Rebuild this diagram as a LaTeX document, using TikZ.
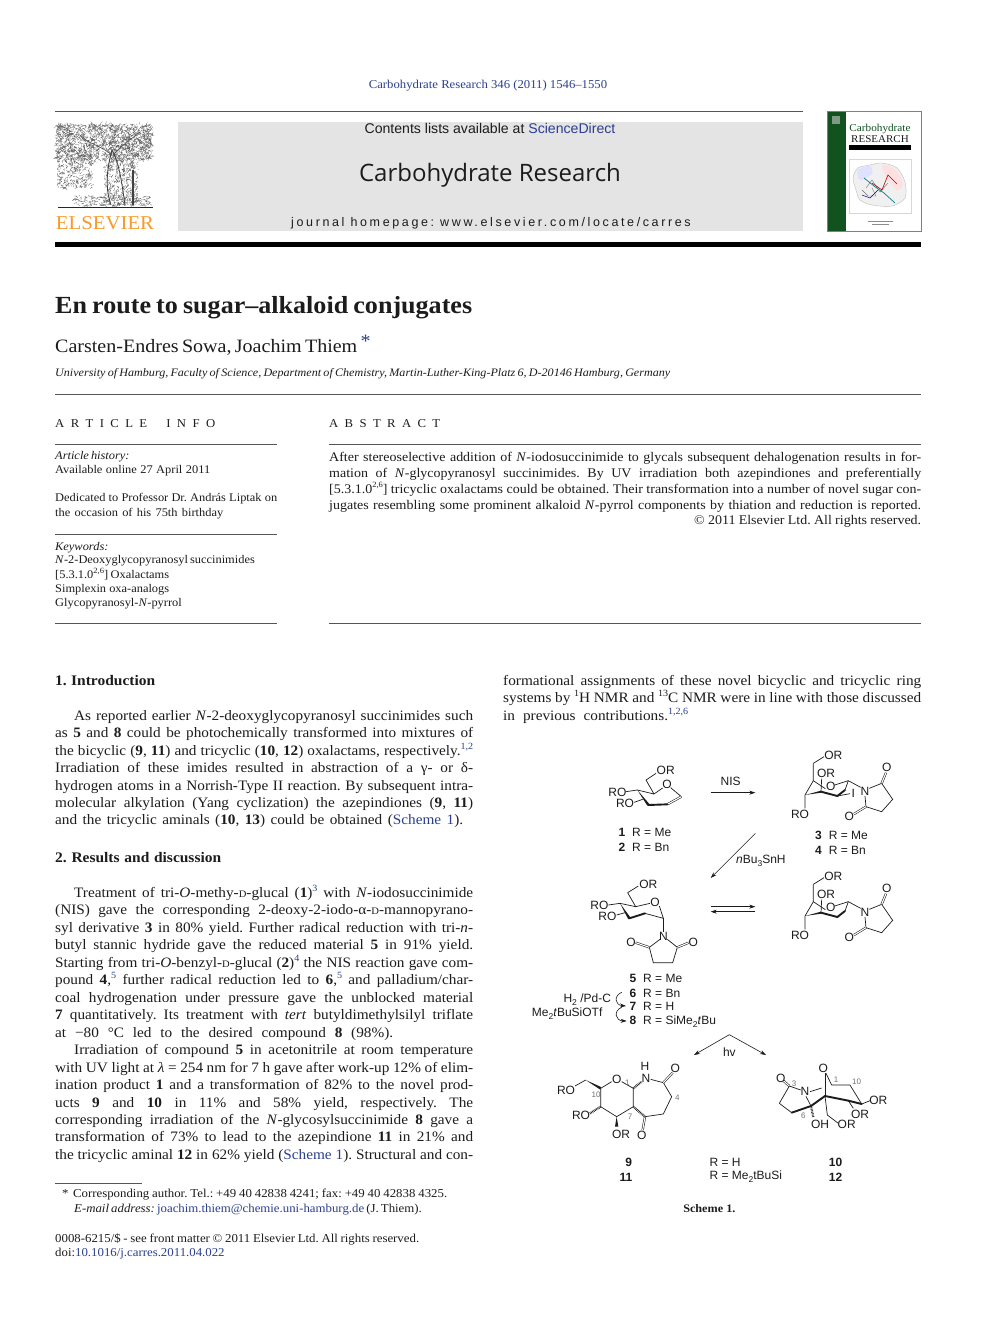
\documentclass[tikz,border=0pt]{standalone}
\usepackage{fontspec}
\usetikzlibrary{arrows.meta}
\setmainfont{Liberation Serif}[FakeStretch=1.06]
\newfontfamily\hvf{Liberation Sans}
\newfontfamily\hvs{Liberation Sans}[LetterSpace=21]
\newfontfamily\opf{Open Sans}
\definecolor{linkblue}{HTML}{2B3F8F}
\definecolor{boxgray}{HTML}{E4E4E4}
\definecolor{rulegray}{HTML}{555555}
\definecolor{elsorange}{HTML}{F79A2B}
\definecolor{covergreen}{HTML}{12521F}
\definecolor{coverlogo}{HTML}{7F9A85}
\definecolor{ink}{HTML}{1C1C1C}
\newcount\tc
\frenchspacing
\newcommand\lk[1]{\textcolor{linkblue}{#1}}
\newcommand\sups[1]{\raisebox{.42em}{\fontsize{9.5}{9.5}\selectfont #1}}
\newcommand\lsups[1]{\raisebox{.42em}{\lk{\fontsize{9.5}{9.5}\selectfont #1}}}
\newcommand\smd{{\fontsize{10}{10}\selectfont D}}
\newcommand\bodyf{\fontsize{14.4}{17}\selectfont\frenchspacing}
\newcommand\smallf{\fontsize{12.1}{14}\selectfont\frenchspacing}
\newcommand\infof{\fontsize{11.7}{14}\selectfont\frenchspacing}
\newcommand\absf{\fontsize{13.2}{15}\selectfont\frenchspacing}
\newcommand\tl[5]{\global\advance\tc by 1
  \node[inner sep=0pt,anchor=base west,text=ink] (t\the\tc) at (#2,#3+4.5) {#1\makebox[#4pt][s]{#5}};}
\newcommand\bl[2]{\tl{\bodyf}{55}{#1+1}{418}{#2}}
\newcommand\bi[2]{\tl{\bodyf}{74}{#1+1}{399}{#2}}
\newcommand\br[2]{\tl{\bodyf}{503}{#1+1}{418}{#2}}
\newcommand\ab[2]{\tl{\absf}{329}{#1+.5}{592}{#2}}
\newcommand\sm[3]{\tl{\infof}{55}{#1}{#2}{#3}}
\newcommand\chem[3]{\global\advance\tc by 1
  \node[inner sep=0pt,text=ink,font=\hvf\fontsize{12}{12}\selectfont] (c\the\tc) at (#1,#2) {#3};}
\newcommand\chemw[3]{\global\advance\tc by 1
  \node[inner sep=0pt,anchor=west,text=ink,font=\hvf\fontsize{12}{12}\selectfont] (c\the\tc) at (#1,#2) {#3};}
\newcommand\num[3]{\global\advance\tc by 1
  \node[inner sep=0pt,text=black!55,font=\hvf\fontsize{8}{8}\selectfont] (c\the\tc) at (#1,#2) {#3};}
\newcommand\ssub[1]{\raisebox{-.25em}{\fontsize{8.5}{8.5}\selectfont #1}}
\tikzset{
  bond/.style={draw=ink,line width=.7pt},
  thickb/.style={draw=ink,line width=1.9pt,line cap=round},
  dbl/.style={draw=ink,line width=.55pt,double=white,double distance=1.1pt},
  hashb/.style={draw=ink,line width=2.2pt,dash pattern=on .7pt off .8pt},
  rxn/.style={draw=ink,line width=.6pt,-{Stealth[length=6pt,width=4pt]}},
  rulel/.style={draw=rulegray,line width=.8pt},
}
% mannosyl succinimide drawn in zoom coordinates
\newcommand\boat[1]{
  \draw[bond] (880,70)--(912,50);
  \draw[bond] (880,70)--(880,122)--(855,165)--(855,205);
  \draw[bond] (880,122)--(916,146);
  \draw[bond] (905,116)--(903,155);
  \draw[bond] (944,135)--(985,122)--(1022,142);
  \draw[bond] (985,122)--(975,150);
  \fill[ink] (855,165)--(903,152)--(903,158)--cycle;
  \draw[thickb] (903,155)--(952,168);
  \draw[thickb] (952,168)--(975,150);
  #1
  \draw[bond] (1048,145)--(1085,130)--(1118,178)--(1085,215)--(1038,200)--(1035,168);
  \draw[dbl] (1085,130)--(1098,98);
  \draw[dbl] (1038,200)--(1002,222);
  \chem{940}{45}{OR}\chem{918}{101}{OR}\chem{932}{139}{O}\chem{840}{223}{RO}
  \chem{1035}{153}{N}\chem{1100}{83}{O}\chem{988}{228}{O}
}
\begin{document}
\begin{tikzpicture}[x=1pt,y=-1pt]
\useasboundingbox (0,0) rectangle (992,1323);
\fill[white] (0,0) rectangle (992,1323);
% ---------- header
\node[inner sep=0pt,font=\fontsize{12}{14}\selectfont,text=linkblue] (head) at (488,86) {Carbohydrate Research 346 (2011) 1546–1550};
\draw[rulel] (55,111)--(803,111);
\fill[boxgray] (178,122) rectangle (803,231);
\node[inner sep=0pt,font=\hvf\fontsize{14.1}{15}\selectfont,text=ink] (contents) at (490,128) {Contents lists available at \lk{ScienceDirect}};
\node[inner sep=0pt,font=\opf\fontsize{24}{28}\selectfont,text=ink] (jname) at (490,175) {Carbohydrate Research};
\node[inner sep=0pt,font=\hvs\fontsize{12.5}{14}\selectfont,text=ink] (homep) at (491,223) {journal homepage: www.elsevier.com/locate/carres};
\fill[black] (55,242) rectangle (921,247);
% ---------- Elsevier tree
\pgfmathsetseed{4711}
\draw[black!60,line width=.25pt] foreach \i in {1,...,1700} {({56+96*rnd},{124+36*rnd})--++({3*rand},{3*rand})};
\draw[black!60,line width=.25pt] foreach \i in {1,...,300} {({57+35*rnd},{158+30*rnd})--++({3*rand},{3*rand})};
\draw[black!60,line width=.25pt] foreach \i in {1,...,500} {({104+34*rnd},{158+48*rnd})--++({2*rand},{3*rand})};
\draw[black!60,line width=.25pt] foreach \i in {1,...,260} {({74+78*rnd},{196+10*rnd})--++({3*rand},{1.5*rand})};
\draw[black!75,line width=.9pt] (111,205)..controls (104,185) and (108,165)..(112,150);
\draw[black!75,line width=.8pt] (125,205)..controls (122,185) and (120,165)..(112,150);
\draw[black!70,line width=.6pt] (112,155)..controls (100,145) and (90,145)..(80,135);
\draw[black!70,line width=.6pt] (113,155)..controls (122,145) and (130,140)..(140,132);
\draw[black!75,line width=1.3pt] (133,205)--(133,170);
\draw[black!85,line width=1.2pt] (58,207.5)--(153,207.5);
\node[inner sep=0pt,font=\fontsize{19.6}{22}\selectfont,text=elsorange] (els) at (105,223.5) {ELSEVIER};
% ---------- cover
\fill[white] (827,111) rectangle (921,231);
\fill[covergreen] (827,111) rectangle (846,231);
\fill[coverlogo] (832,116) rectangle (840,124);
\draw[black!50,line width=.6pt] (827,111) rectangle (921,231);
\node[inner sep=0pt,font=\fontsize{10.6}{11}\selectfont,text=covergreen] (cov1) at (880,129) {Carbohydrate};
\node[inner sep=0pt,font=\fontsize{10.4}{11}\selectfont,text=ink] (cov2) at (880,139) {RESEARCH};
\fill[black] (849,145) rectangle (911,150);
\draw[covergreen!20,line width=.5pt] (849,159) rectangle (911,213);
\filldraw[fill=black!6,draw=black!25,line width=.4pt] plot[smooth cycle] coordinates {(853,178)(858,168)(870,165)(882,163)(897,168)(905,182)(905,198)(892,206)(872,205)(860,200)(856,190)};
\fill[red!12] plot[smooth cycle] coordinates {(882,165)(896,170)(903,184)(897,190)(888,180)};
\fill[blue!12] plot[smooth cycle] coordinates {(858,170)(870,166)(872,174)(860,180)};
\draw[black!55,line width=.4pt] (866,188)--(872,180)--(880,192)--(888,183);
\draw[black!55,line width=.4pt] (862,190)--(868,196)--(876,196)--(872,188);
\draw[teal,line width=.7pt] (864,178)--(874,186)--(884,193)--(895,203);
\draw[red!70!black,line width=.6pt] (872,183)--(882,190)--(888,175)--(897,184);
\draw[blue!60!black,line width=.5pt] (862,195)--(870,198)--(878,190);
\draw[black!45,line width=.5pt] (868,221)--(893,221);
\draw[black!45,line width=.5pt] (872,224.5)--(889,224.5);
% ---------- title block
\tl{\fontsize{24.6}{28}\selectfont\bfseries\frenchspacing}{55}{308.5}{417}{En route to sugar–alkaloid conjugates}
\tl{\fontsize{18.9}{22}\selectfont\frenchspacing}{55}{347.5}{315}{Carsten-Endres Sowa, Joachim Thiem \lk{\raisebox{.22em}{*}}}
\tl{\fontsize{11.4}{14}\selectfont\itshape\frenchspacing}{55}{372}{615}{University of Hamburg, Faculty of Science, Department of Chemistry, Martin-Luther-King-Platz 6, D-20146 Hamburg, Germany}
\draw[rulel] (55,394)--(921,394);
\tl{\fontsize{12}{14}\selectfont}{55}{422.5}{160}{A R T I C L E \ \ I N F O}
\tl{\fontsize{12}{14}\selectfont}{329}{422.5}{111}{A B S T R A C T}
\draw[rulel] (55,444)--(277,444);
\draw[rulel] (329,444)--(921,444);
\sm{455}{61}{\textit{Article history:}}
\sm{469}{155}{Available online 27 April 2011}
\sm{497}{222}{Dedicated to Professor Dr. András Liptak on}
\sm{512}{168}{the occasion of his 75th birthday}
\draw[rulel] (55,534)--(277,534);
\sm{546}{50}{\textit{Keywords:}}
\sm{559}{199}{\textit{N}-2-Deoxyglycopyranosyl succinimides}
\sm{574}{114}{[5.3.1.0\sups{\fontsize{8}{8}\selectfont 2,6}] Oxalactams}
\sm{588}{114}{Simplexin oxa-analogs}
\sm{602}{125}{Glycopyranosyl-\textit{N}-pyrrol}
\draw[rulel] (55,623)--(277,623);
\draw[rulel] (329,623)--(921,623);
% ---------- abstract
\ab{456}{After stereoselective addition of \textit{N}-iodosuccinimide to glycals subsequent dehalogenation results in for-}
\ab{472}{mation of \textit{N}-glycopyranosyl succinimides. By UV irradiation both azepindiones and preferentially}
\ab{488}{[5.3.1.0\sups{\fontsize{8}{8}\selectfont 2,6}] tricyclic oxalactams could be obtained. Their transformation into a number of novel sugar con-}
\ab{504}{jugates resembling some prominent alkaloid \textit{N}-pyrrol components by thiation and reduction is reported.}
\tl{\absf}{694}{519.5}{227}{© 2011 Elsevier Ltd. All rights reserved.}
% ---------- left column
\tl{\fontsize{14.6}{17}\selectfont\bfseries\frenchspacing}{55}{681}{100}{1. Introduction}
\bi{715}{As reported earlier \textit{N}-2-deoxyglycopyranosyl succinimides such}
\bl{732}{as \textbf{5} and \textbf{8} could be photochemically transformed into mixtures of}
\bl{750}{the bicyclic (\textbf{9}, \textbf{11}) and tricyclic (\textbf{10}, \textbf{12}) oxalactams, respectively.\lsups{1,2}}
\bl{767}{Irradiation of these imides resulted in abstraction of a γ- or δ-}
\bl{785}{hydrogen atoms in a Norrish-Type II reaction. By subsequent intra-}
\bl{802}{molecular alkylation (Yang cyclization) the azepindiones (\textbf{9}, \textbf{11})}
\tl{\bodyf}{55}{820}{408}{and the tricyclic aminals (\textbf{10}, \textbf{13}) could be obtained (\lk{Scheme 1}).}
\tl{\fontsize{14.6}{17}\selectfont\bfseries\frenchspacing}{55}{858}{166}{2. Results and discussion}
\bi{892}{Treatment of tri-\textit{O}-methy-\smd-glucal (\textbf{1})\lsups{3} with \textit{N}-iodosuccinimide}
\bl{909}{(NIS) gave the corresponding 2-deoxy-2-iodo-α-\smd-mannopyrano-}
\bl{927}{syl derivative \textbf{3} in 80\% yield. Further radical reduction with tri-\textit{n}-}
\bl{944}{butyl stannic hydride gave the reduced material \textbf{5} in 91\% yield.}
\bl{962}{Starting from tri-\textit{O}-benzyl-\smd-glucal (\textbf{2})\lsups{4} the NIS reaction gave com-}
\bl{979}{pound \textbf{4},\lsups{5} further radical reduction led to \textbf{6},\lsups{5} and palladium/char-}
\bl{997}{coal hydrogenation under pressure gave the unblocked material}
\bl{1014}{\textbf{7} quantitatively. Its treatment with \textit{tert} butyldimethylsilyl triflate}
\tl{\bodyf}{55}{1033}{338}{at −80 °C led to the desired compound \textbf{8} (98\%).}
\bi{1049}{Irradiation of compound \textbf{5} in acetonitrile at room temperature}
\bl{1067}{with UV light at \textit{λ} = 254 nm for 7 h gave after work-up 12\% of elim-}
\bl{1084}{ination product \textbf{1} and a transformation of 82\% to the novel prod-}
\bl{1102}{ucts \textbf{9} and \textbf{10} in 11\% and 58\% yield, respectively. The}
\bl{1119}{corresponding irradiation of the \textit{N}-glycosylsuccinimide \textbf{8} gave a}
\bl{1136}{transformation of 73\% to lead to the azepindione \textbf{11} in 21\% and}
\bl{1154}{the tricyclic aminal \textbf{12} in 62\% yield (\lk{Scheme 1}). Structural and con-}
\draw[rulegray,line width=.5pt] (55,1183)--(142,1183);
\tl{\smallf}{62}{1193}{385}{*\hspace{4.5pt}Corresponding author. Tel.: +49 40 42838 4241; fax: +49 40 42838 4325.}
\tl{\smallf}{74}{1208}{336}{\textit{E-mail address:} \lk{joachim.thiem@chemie.uni-hamburg.de} (J. Thiem).}
\tl{\smallf}{55}{1238}{364}{0008-6215/\$ - see front matter © 2011 Elsevier Ltd. All rights reserved.}
\tl{\smallf}{55}{1252}{164}{doi:\lk{10.1016/j.carres.2011.04.022}}
% ---------- right column
\br{680}{formational assignments of these novel bicyclic and tricyclic ring}
\br{697}{systems by \sups{1}H NMR and \sups{13}C NMR were in line with those discussed}
\tl{\bodyf}{503}{716}{185}{in previous contributions.\lsups{1,2,6}}
% ---------- scheme, upper part (zoom coordinates)
\begin{scope}[shift={(520,740)},x=.33333pt,y=-.33333pt]
  % 1,2
  \draw[bond] (378,120)--(408,100);
  \draw[bond] (378,120)--(402,162)--(428,144);
  \draw[bond] (452,143)--(484,170);
  \draw[dbl] (484,170)--(442,193);
  \draw[bond] (402,162)--(352,150)--(318,155);
  \draw[bond] (342,187)--(368,178);
  \draw[thickb] (442,193)--(385,195);
  \fill[ink] (352,150)--(388,192)--(382,197)--cycle;
  \chem{437}{90}{OR}\chem{292}{158}{RO}\chem{315}{190}{RO}\chem{441}{132}{O}
  \chemw{295}{278}{\textbf{1}\hspace{7pt}R = Me}
  \chemw{295}{322}{\textbf{2}\hspace{7pt}R = Bn}
  % 3,4
  \boat{\draw[bond] (952,168)--(990,161);\chem{1000}{160}{I}}
  \chemw{885}{285}{\textbf{3}\hspace{7pt}R = Me}
  \chemw{885}{330}{\textbf{4}\hspace{7pt}R = Bn}
  % arrows
  \coordinate (nisA) at (572,158); \coordinate (nisB) at (706,158);
  \draw[rxn] (nisA)--(nisB);
  \chem{632}{125}{NIS}
  \coordinate (snA) at (706,280); \coordinate (snB) at (572,414);
  \draw[rxn] (snA)--(snB);
  \chemw{648}{362}{\textit{n}Bu\ssub{3}SnH}
  \coordinate (eqA) at (572,500); \coordinate (eqB) at (706,500);
  \coordinate (eqC) at (706,515); \coordinate (eqD) at (572,515);
  \draw[rxn] (eqA)--(eqB);
  \draw[rxn] (eqC)--(eqD);
  % lower boat
  \begin{scope}[yshift=-121pt]
    \boat{}
  \end{scope}
  % 5
  \draw[bond] (323,458)--(355,438);
  \draw[bond] (323,458)--(347,500)--(390,490);
  \draw[bond] (418,498)--(430,535)--(375,520);
  \draw[bond] (347,500)--(300,490)--(265,495);
  \draw[bond] (290,525)--(315,518);
  \fill[ink] (300,490)--(331,532)--(325,538)--cycle;
  \draw[thickb] (328,535)--(375,520);
  \draw[bond] (430,535)--(430,576);
  \draw[bond] (420,598)--(388,622)--(400,668)--(458,668)--(472,622)--(442,598);
  \draw[dbl] (388,622)--(347,608);
  \draw[dbl] (472,622)--(506,608);
  \chem{385}{432}{OR}\chem{238}{497}{RO}\chem{262}{528}{RO}\chem{405}{488}{O}
  \chem{430}{590}{N}\chem{333}{606}{O}\chem{520}{606}{O}
\end{scope}
% ---------- scheme, lower part (zoom coordinates)
\begin{scope}[shift={(520,960)},x=.33333pt,y=-.33333pt]
  \chemw{328}{55}{\textbf{5}\hspace{7pt}R = Me}
  \chemw{328}{100}{\textbf{6}\hspace{7pt}R = Bn}
  \chemw{328}{140}{\textbf{7}\hspace{7pt}R = H}
  \chemw{328}{185}{\textbf{8}\hspace{7pt}R = SiMe\ssub{2}\textit{t}Bu}
  \chemw{130}{120}{H\ssub{2} /Pd-C}
  \chemw{35}{160}{Me\ssub{2}\textit{t}BuSiOTf}
  \coordinate (c1a) at (305,97); \coordinate (c1b) at (318,138);
  \coordinate (c2a) at (305,142); \coordinate (c2b) at (320,183);
  \draw[rxn] (c1a)..controls (280,108) and (285,135)..(c1b);
  \draw[rxn] (c2a)..controls (280,152) and (285,182)..(c2b);
  \coordinate (hv) at (628,224); \coordinate (hvL) at (522,285); \coordinate (hvR) at (738,285);
  \draw[rxn] (hv)--(hvL);
  \draw[rxn] (hv)--(hvR);
  \chem{628}{277}{hv}
  % 9
  \draw[bond] (165,378)--(197,360);
  \fill[ink] (197,360)--(243,381)--(241,389)--cycle;
  \draw[bond] (242,385)--(275,365);
  \draw[bond] (305,365)--(340,385)--(340,440)--(290,470)--(242,440)--(242,385);
  \draw[hashb] (340,385)--(365,365);
  \draw[bond] (392,358)--(430,368)--(455,410)--(430,462)--(375,470);
  \draw[dbl] (430,368)--(458,338);
  \draw[dbl] (375,470)--(368,510);
  \draw[hashb] (340,440)--(375,470);
  \draw[hashb] (242,440)--(210,460);
  \fill[ink] (290,470)--(285,500)--(295,500)--cycle;
  \chem{138}{390}{RO}\chem{290}{358}{O}\chem{378}{355}{N}\chem{375}{320}{H}
  \chem{466}{325}{O}\chem{183}{465}{RO}\chem{303}{523}{OR}\chem{365}{525}{O}
  \num{228}{403}{10}\num{322}{368}{1}\num{472}{413}{4}\num{330}{470}{7}
  % 10
  \draw[dbl] (808,378)--(790,362);
  \draw[bond] (808,378)--(842,390);
  \draw[bond] (808,378)--(778,430);
  \draw[bond] (778,430)--(815,458);
  \draw[thickb] (815,458)--(873,438)--(915,408)--(985,422);
  \draw[thickb] (985,422)--(1025,432);
  \draw[bond] (858,409)--(873,438);
  \draw[bond] (870,395)--(905,384);
  \draw[bond] (1025,432)--(990,375)--(935,375)--(918,340);
  \draw[bond] (915,340)--(915,408);
  \draw[bond] (1025,432)--(1050,422);
  \draw[bond] (985,422)--(1000,445);
  \draw[bond] (915,408)--(922,465)--(955,490);
  \draw[hashb] (873,438)--(880,472);
  \chem{910}{325}{O}\chem{855}{395}{N}\chem{782}{355}{O}
  \chem{1075}{420}{OR}\chem{1020}{462}{OR}\chem{980}{492}{OR}\chem{900}{492}{OH}
  \num{948}{360}{1}\num{1010}{365}{10}\num{822}{372}{3}\num{850}{468}{6}
  % labels
  \chem{326}{607}{\textbf{9}}\chem{318}{653}{\textbf{11}}
  \chem{947}{607}{\textbf{10}}\chem{947}{653}{\textbf{12}}
  \chemw{568}{607}{R = H}
  \chemw{568}{651}{R = Me\ssub{2}tBuSi}
  \node[inner sep=0pt,font=\fontsize{11.5}{13}\selectfont\bfseries,text=ink] (cap) at (568,745) {Scheme 1.};
\end{scope}
\end{tikzpicture}
\end{document}
